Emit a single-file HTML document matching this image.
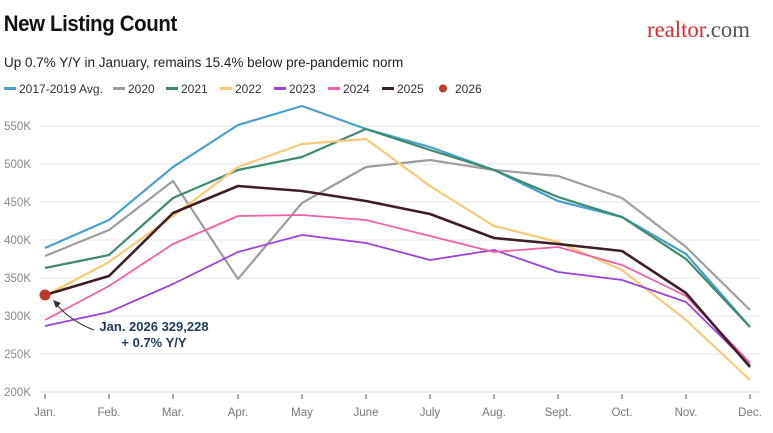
<!DOCTYPE html>
<html><head><meta charset="utf-8"><style>
body{margin:0;background:#fff;width:773px;height:428px;overflow:hidden;font-family:"Liberation Sans",sans-serif}
</style></head><body>
<svg width="773" height="428" xmlns="http://www.w3.org/2000/svg" font-family="Liberation Sans, sans-serif">
<text x="4" y="31" font-size="22" font-weight="bold" fill="#111" transform="scale(0.93,1)" style="letter-spacing:-0.4px">New Listing Count</text>
<text x="647" y="37" font-size="23" fill="#d52b2b" font-family="Liberation Serif, serif" textLength="103" lengthAdjust="spacingAndGlyphs">realtor<tspan fill="#555">.com</tspan></text>
<text x="4" y="67" font-size="13.5" fill="#222">Up 0.7% Y/Y in January, remains 15.4% below pre-pandemic norm</text>
<g font-size="12" fill="#333">
<rect x="4" y="87" width="12" height="3" fill="#4a9fce"/><text x="19" y="93">2017-2019 Avg.</text>
<rect x="113" y="87" width="12" height="3" fill="#9e9e9e"/><text x="128" y="93">2020</text>
<rect x="166" y="87" width="12" height="3" fill="#3d8a6e"/><text x="181" y="93">2021</text>
<rect x="220" y="87" width="12" height="3" fill="#f8c87a"/><text x="235" y="93">2022</text>
<rect x="274" y="87" width="12" height="3" fill="#9b43d6"/><text x="289" y="93">2023</text>
<rect x="328" y="87" width="12" height="3" fill="#f060a8"/><text x="343" y="93">2024</text>
<rect x="382" y="87" width="12" height="3" fill="#3e1f25"/><text x="397" y="93">2025</text>
<circle cx="443" cy="88.5" r="4" fill="#c0392b"/><text x="455" y="93">2026</text>
</g>
<g stroke="#e6e6e6" stroke-width="1">
<line x1="40" x2="760" y1="126" y2="126"/><line x1="40" x2="760" y1="164" y2="164"/><line x1="40" x2="760" y1="202" y2="202"/><line x1="40" x2="760" y1="240" y2="240"/><line x1="40" x2="760" y1="278" y2="278"/><line x1="40" x2="760" y1="316" y2="316"/><line x1="40" x2="760" y1="354" y2="354"/>
<line x1="40" x2="760" y1="392" y2="392" stroke="#ddd"/>
</g>
<g font-size="11.5" fill="#888" text-anchor="end">
<text x="31" y="130">550K</text><text x="31" y="168">500K</text><text x="31" y="206">450K</text><text x="31" y="244">400K</text><text x="31" y="282">350K</text><text x="31" y="320">300K</text><text x="31" y="358">250K</text><text x="31" y="396">200K</text>
</g>
<g stroke="#555" stroke-width="1">
<line x1="45" x2="45" y1="394" y2="399"/><line x1="109" x2="109" y1="394" y2="399"/><line x1="173" x2="173" y1="394" y2="399"/><line x1="238" x2="238" y1="394" y2="399"/><line x1="302" x2="302" y1="394" y2="399"/><line x1="366" x2="366" y1="394" y2="399"/><line x1="430" x2="430" y1="394" y2="399"/><line x1="494" x2="494" y1="394" y2="399"/><line x1="558" x2="558" y1="394" y2="399"/><line x1="622" x2="622" y1="394" y2="399"/><line x1="686" x2="686" y1="394" y2="399"/><line x1="750" x2="750" y1="394" y2="399"/>
</g>
<g font-size="11.5" fill="#777" text-anchor="middle">
<text x="45" y="416">Jan.</text><text x="109" y="416">Feb.</text><text x="173" y="416">Mar.</text><text x="238" y="416">Apr.</text><text x="302" y="416">May</text><text x="366" y="416">June</text><text x="430" y="416">July</text><text x="494" y="416">Aug.</text><text x="558" y="416">Sept.</text><text x="622" y="416">Oct.</text><text x="686" y="416">Nov.</text><text x="750" y="416">Dec.</text>
</g>
<g fill="none" stroke-width="2.2" stroke-linejoin="round">
<polyline stroke="#9e9e9e" points="45,256 109,230 173,181 238,279 302,203 366,167 430,160 494,170 558,176 622,198 686,247 750,310"/>
<polyline stroke="#4a9fce" points="45,248 109,220 173,167 238,125 302,106 366,129 430,147 494,170 558,201 622,217 686,254 750,327"/>
<polyline stroke="#3d8a6e" points="45,268 109,255 173,198 238,170 302,157 366,129 430,150 494,170 558,197 622,217 686,259 750,327"/>
<polyline stroke="#f8c87a" points="45,296 109,262 173,216 238,167 302,144 366,139 430,186 494,226 558,242 622,270 686,320 750,380"/>
<polyline stroke="#9b43d6" stroke-width="1.8" points="45,326 109,312 173,284 238,252 302,235 366,243 430,260 494,250 558,272 622,280 686,302 750,365"/>
<polyline stroke="#f060a8" stroke-width="1.8" points="45,320 109,286 173,244 238,216 302,215 366,220 430,236 494,252 558,247 622,265 686,296 750,363"/>
<polyline stroke="#3e1f25" stroke-width="2.6" points="45,295 109,276 173,213 238,186 302,191 366,201 430,214 494,238 558,244 622,251 686,293 750,367"/>
</g>
<circle cx="45" cy="295" r="5.5" fill="#c0392b"/>
<path d="M94,330 Q72,322 56,304" fill="none" stroke="#333" stroke-width="1"/>
<path d="M53,300 L61,303 L56,308 Z" fill="#333"/>
<g font-size="13" font-weight="bold" fill="#1f3b57" text-anchor="middle">
<text x="154" y="331">Jan. 2026 329,228</text><text x="154" y="347">+ 0.7% Y/Y</text>
</g>
</svg>
</body></html>
